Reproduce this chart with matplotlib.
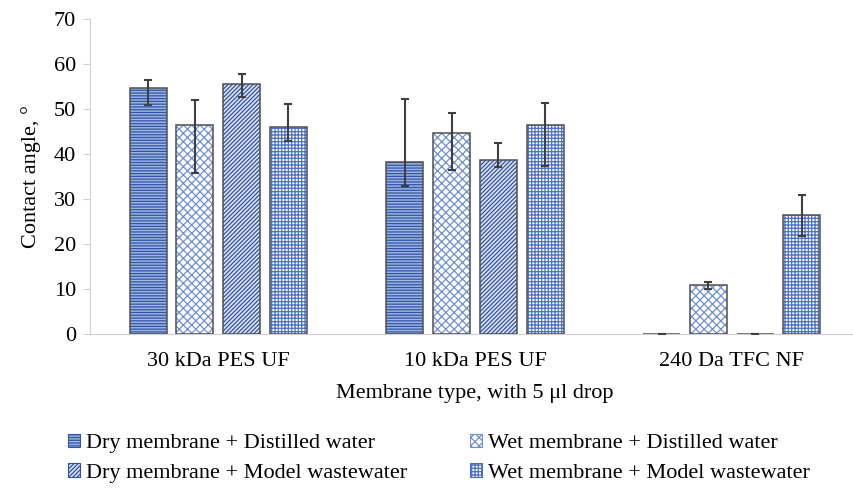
import numpy as np
import matplotlib
matplotlib.use("Agg")
import matplotlib.pyplot as plt
from matplotlib.patches import Patch

# data
membranes = ['30 kDa PES UF', '10 kDa PES UF', '240 Da TFC NF']
series = ['Dry membrane + Distilled water', 'Wet membrane + Distilled water',
          'Dry membrane + Model wastewater', 'Wet membrane + Model wastewater']
dry_dw = [54.7, 38.2, 0.0]
wet_dw = [46.4, 44.6, 10.8]
dry_mw = [55.6, 38.6, 0.0]
wet_mw = [46.0, 46.4, 26.4]
# error bar ends (upper, lower)
dry_dw_hi = [56.5, 52.2, 0.0]
dry_dw_lo = [50.9, 32.8, 0.0]
wet_dw_hi = [52.1, 49.1, 11.6]
wet_dw_lo = [35.8, 36.5, 10.1]
dry_mw_hi = [57.7, 42.4, 0.0]
dry_mw_lo = [52.7, 37.2, 0.0]
wet_mw_hi = [51.2, 51.3, 30.9]
wet_mw_lo = [43.0, 37.4, 21.8]

plt.rcParams['font.family'] = ['Liberation Serif', 'DejaVu Serif']
plt.rcParams['hatch.linewidth'] = 0.9

fs = 16
fig = plt.figure(figsize=(8.54, 4.88), dpi=100)
# right edge runs a bit past the canvas, like the cropped original
ax = fig.add_axes([90/854, 1-334/488, 770/854, 315/488])

x = np.arange(len(membranes))
w = 0.144
step = 0.182
vals = [dry_dw, wet_dw, dry_mw, wet_mw]
his = [dry_dw_hi, wet_dw_hi, dry_mw_hi, wet_mw_hi]
los = [dry_dw_lo, wet_dw_lo, dry_mw_lo, wet_mw_lo]
faces = ['#9DB3E0', 'white', '#DCE4F4', 'white']
hcols = ['#2F55A4', '#6F8FD2', '#2E52A3', '#4C70C2']
hatches = ['------', 'xxxx', '////////', '+++++']

handles = []
for i in range(4):
    xs = x + (i - 1.5) * step
    v = np.array(vals[i])
    # hatch layer, then outline layer
    ax.bar(xs, v, w, color=faces[i], edgecolor=hcols[i], hatch=hatches[i], linewidth=0, zorder=2)
    ax.bar(xs, v, w, fill=False, edgecolor='#505050', linewidth=1.1, zorder=3)
    yerr = [v - np.array(los[i]), np.array(his[i]) - v]
    ax.errorbar(xs, v, yerr=yerr, fmt='none', ecolor='#3f3f3f', elinewidth=1.5,
                capsize=3, capthick=1.5, zorder=4)
    handles.append(Patch(facecolor=faces[i], edgecolor=hcols[i], hatch=hatches[i], linewidth=0.8))

ax.set_xlim(-0.5, 2.5)
ax.set_ylim(0, 70)
ax.set_yticks(range(0, 71, 10))
ax.set_xticks(x)
ax.set_xticklabels(membranes)
ax.tick_params(axis='y', labelsize=fs, length=5, color='#d0d0d0', pad=5)
ax.tick_params(axis='x', labelsize=fs, length=0, pad=13)
for s in ['top', 'right']:
    ax.spines[s].set_visible(False)
ax.spines['left'].set_color('#d0d0d0')
ax.spines['bottom'].set_color('#d0d0d0')

ax.set_ylabel('Contact angle, °', fontsize=fs, labelpad=9)
ax.set_xlabel('Membrane type, with 5 μl drop', fontsize=fs, labelpad=9)

order = [0, 2, 1, 3]
fig.legend([handles[k] for k in order], [series[k] for k in order],
           loc='center', bbox_to_anchor=(0.514, 0.061), ncol=2, frameon=False,
           fontsize=fs, handlelength=0.55, handleheight=0.55, handletextpad=0.25,
           columnspacing=2.85, labelspacing=0.44)

fig.savefig('out.png', dpi=100)
